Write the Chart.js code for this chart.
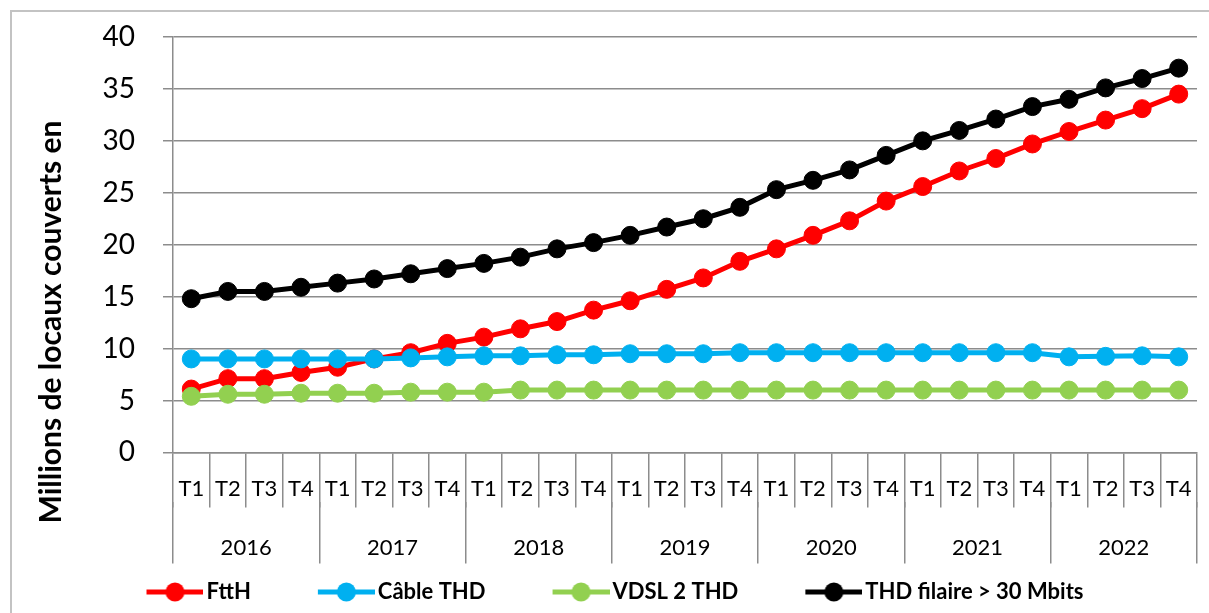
<!DOCTYPE html>
<html lang="fr">
<head>
    <meta charset="UTF-8">
    <title>Couverture THD</title>
    <script src="https://cdn.jsdelivr.net/npm/chart.js"></script>
    <style>
        body { margin: 0; background: #fff; overflow: hidden; }
        #frame { position: absolute; left: 10px; top: 10px; width: 1300px; height: 700px; border: 2px solid #c3c3c3; box-sizing: border-box; }
        #thdChart { position: absolute; left: 0; top: 0; }
    </style>
</head>
<body>
    <div id="frame"></div>
    <canvas id="thdChart" width="1209" height="613"></canvas>
    <script>
        var years = ['2016', '2017', '2018', '2019', '2020', '2021', '2022'];
        var quarters = ['T1', 'T2', 'T3', 'T4'];
        var ftth = [6.1, 7.1, 7.1, 7.7, 8.2, 9.0, 9.6, 10.5, 11.1, 11.9, 12.6, 13.7, 14.6, 15.7,
                    16.8, 18.4, 19.6, 20.9, 22.3, 24.2, 25.6, 27.1, 28.3, 29.7, 30.9, 32.0, 33.1, 34.5];
        var cable = [9.0, 9.0, 9.0, 9.0, 9.0, 9.0, 9.1, 9.2, 9.3, 9.3, 9.4, 9.4, 9.5, 9.5,
                     9.5, 9.6, 9.6, 9.6, 9.6, 9.6, 9.6, 9.6, 9.6, 9.6, 9.2, 9.25, 9.3, 9.2];
        var vdsl = [5.4, 5.6, 5.6, 5.7, 5.7, 5.7, 5.8, 5.8, 5.8, 6.0, 6.0, 6.0, 6.0, 6.0,
                    6.0, 6.0, 6.0, 6.0, 6.0, 6.0, 6.0, 6.0, 6.0, 6.0, 6.0, 6.0, 6.0, 6.0];
        var thd = [14.8, 15.5, 15.5, 15.9, 16.3, 16.7, 17.2, 17.7, 18.2, 18.8, 19.6, 20.2, 20.9, 21.7,
                   22.5, 23.6, 25.3, 26.2, 27.2, 28.6, 30.0, 31.0, 32.1, 33.3, 34.0, 35.1, 36.0, 37.0];

        var quarterLabels = years.flatMap(function() { return quarters; });
        var gridGray = '#8c8c8c';

        // legend marker: short line with a dot, drawn in the right part of the image
        function legendMarker(color) {
            var c = document.createElement('canvas');
            c.width = 122; c.height = 24;
            var g = c.getContext('2d');
            g.strokeStyle = color; g.lineWidth = 5;
            g.beginPath(); g.moveTo(65, 12); g.lineTo(122, 12); g.stroke();
            g.fillStyle = color;
            g.beginPath(); g.arc(93.5, 12, 9.5, 0, Math.PI * 2); g.fill();
            return c;
        }

        function series(label, data, color, order) {
            return {
                label: label, data: data, order: order,
                borderColor: color, backgroundColor: color,
                borderWidth: 5, pointRadius: 9, pointBorderWidth: 1,
                pointBackgroundColor: color, pointBorderColor: color,
                tension: 0
            };
        }

        // vertical axis title, placed like the original (centred lower than the plot)
        var yTitle = {
            id: 'yTitle',
            afterLayout: function(chart) {
                // legend sits a bit left of centre in the original
                chart.legend.left -= 12;
                chart.legend.right -= 12;
            },
            afterDraw: function(chart) {
                var ctx = chart.ctx;
                ctx.save();
                ctx.translate(51, 322);
                ctx.rotate(-Math.PI / 2);
                ctx.font = 'bold 30px Lato';
                ctx.fillStyle = '#000';
                ctx.textAlign = 'center';
                ctx.textBaseline = 'middle';
                ctx.fillText('Millions de locaux couverts en', 0, 0);
                ctx.restore();
            }
        };

        var ctx = document.getElementById('thdChart').getContext('2d');
        var thdChart = new Chart(ctx, {
            type: 'line',
            data: {
                labels: quarterLabels,
                datasets: [
                    series('FttH', ftth, '#ff0000', 4),
                    series('Câble THD', cable, '#00b0f0', 3),
                    series('VDSL 2 THD', vdsl, '#92d050', 2),
                    series('THD filaire > 30 Mbits', thd, '#000000', 1)
                ]
            },
            plugins: [yTitle],
            options: {
                responsive: false,
                animation: false,
                devicePixelRatio: 1,
                layout: { padding: { left: 0, right: 12, top: 37, bottom: 0 } },
                plugins: {
                    tooltip: { enabled: false },
                    legend: {
                        position: 'bottom',
                        labels: {
                            usePointStyle: true,
                            pointStyleWidth: 106,
                            padding: 10,
                            color: '#000',
                            font: { family: 'Lato', size: 22, weight: 'bold' },
                            generateLabels: function(chart) {
                                return chart.data.datasets.map(function(ds, i) {
                                    return {
                                        text: ds.label,
                                        pointStyle: legendMarker(ds.borderColor),
                                        fillStyle: ds.borderColor,
                                        strokeStyle: ds.borderColor,
                                        lineWidth: 0,
                                        datasetIndex: i,
                                        hidden: false
                                    };
                                });
                            }
                        }
                    }
                },
                scales: {
                    x: {
                        type: 'category',
                        offset: true,
                        grid: { display: true, drawOnChartArea: false, offset: true, tickLength: 55, color: gridGray, lineWidth: 1.5 },
                        border: { display: true, color: gridGray, width: 1.5 },
                        ticks: { color: '#000', padding: -32, autoSkip: false, maxRotation: 0,
                                 font: { family: 'Lato', size: 22 } },
                        afterFit: function(scale) { scale.height = 50; }
                    },
                    x2: {
                        type: 'category',
                        labels: years,
                        position: 'bottom',
                        offset: true,
                        grid: { display: true, drawOnChartArea: false, offset: true, tickLength: 61, color: gridGray, lineWidth: 1.5 },
                        border: { display: false },
                        ticks: { color: '#000', padding: -29, autoSkip: false, maxRotation: 0,
                                 font: { family: 'Lato', size: 22 } },
                        afterFit: function(scale) { scale.height = 68.6; }
                    },
                    y: {
                        min: 0,
                        max: 40,
                        ticks: { stepSize: 5, color: '#000', padding: 28, font: { family: 'Lato', size: 28 } },
                        grid: { color: gridGray, lineWidth: 1.5, tickLength: 10 },
                        border: { color: gridGray, width: 1.5 },
                        afterFit: function(scale) {
                            scale.width = 173;
                            scale.paddingTop = 0;
                            scale.paddingBottom = 0;
                        }
                    }
                }
            }
        });
    </script>
</body>
</html>
